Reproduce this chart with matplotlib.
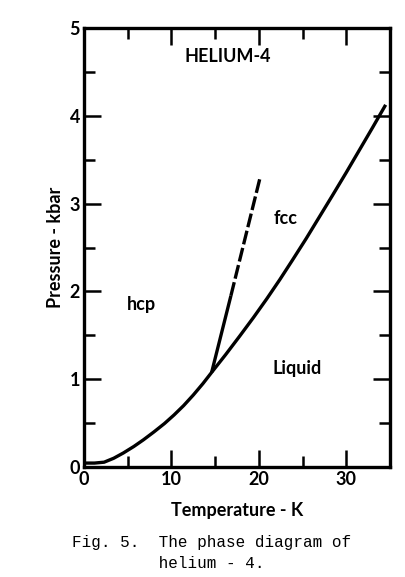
import matplotlib
matplotlib.use("Agg")
import matplotlib.pyplot as plt
from matplotlib.ticker import MultipleLocator

# melting curve (hcp/fcc - liquid)
melt_T = [0, 1.2, 2.3, 3.4, 4.5, 5.7, 6.8, 8.0, 9.2, 10.3, 11.4, 12.5, 13.6, 14.6,
          16.2, 17.8, 19.4, 20.9, 22.4, 23.8, 25.4, 26.9, 28.4, 30.0, 31.5, 33.0, 34.5]
melt_P = [0.045, 0.045, 0.055, 0.10, 0.16, 0.234, 0.31, 0.40, 0.495, 0.593, 0.70, 0.82, 0.95, 1.078,
          1.28, 1.49, 1.705, 1.915, 2.135, 2.35, 2.60, 2.845, 3.09, 3.355, 3.61, 3.865, 4.125]

# hcp - fcc boundary: measured part, then extrapolated (dashed)
hf_T = [14.6, 16.8]
hf_P = [1.078, 1.95]
hf_ext_T = [16.8, 20.1]
hf_ext_P = [1.95, 3.28]

labels = [("HELIUM-4", 16.4, 4.68), ("fcc", 23.1, 2.83), ("hcp", 6.6, 1.85), ("Liquid", 24.4, 1.12)]

plt.rcParams["font.family"] = ["Lato", "DejaVu Sans"]

fig = plt.figure(figsize=(4.05, 5.77), dpi=100)
ax = fig.add_axes([0.2074, 0.1906, 0.7556, 0.7609])

ax.plot(melt_T, melt_P, color="black", linewidth=2.4, solid_capstyle="butt")
ax.plot(hf_T, hf_P, color="black", linewidth=2.4, solid_capstyle="butt")
ax.plot(hf_ext_T, hf_ext_P, color="black", linewidth=2.4, dashes=(4.2, 1.1))

for txt, x, y in labels:
    ax.text(x, y, txt, ha="center", va="center", fontsize=13, fontweight="bold")

ax.set_xlim(0, 35)
ax.set_ylim(0, 5)
ax.xaxis.set_major_locator(MultipleLocator(10))
ax.xaxis.set_minor_locator(MultipleLocator(5))
ax.yaxis.set_major_locator(MultipleLocator(1))
ax.yaxis.set_minor_locator(MultipleLocator(0.5))
ax.tick_params(which="both", direction="in", top=True, right=True, width=1.8)
ax.tick_params(which="major", length=12, labelsize=13, pad=3)
ax.tick_params(which="minor", length=8)
for lab in ax.get_xticklabels() + ax.get_yticklabels():
    lab.set_fontweight("bold")
for sp in ax.spines.values():
    sp.set_linewidth(2.4)

ax.set_xlabel("Temperature - K", fontsize=13, fontweight="bold", labelpad=10)
ax.set_ylabel("Pressure - kbar", fontsize=13, fontweight="bold", labelpad=4)

fig.text(0.178, 0.059, "Fig. 5.  The phase diagram of", ha="left", va="center",
         fontsize=11.5, family="Liberation Mono")
fig.text(0.178, 0.024, "         helium - 4.", ha="left", va="center",
         fontsize=11.5, family="Liberation Mono")

fig.savefig("out.png", dpi=100, facecolor="white")
